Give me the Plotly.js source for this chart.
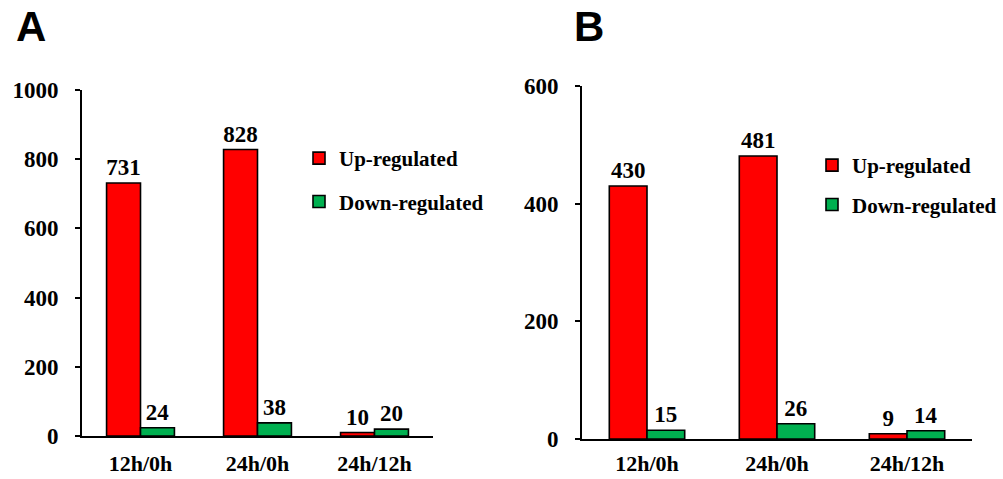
<!DOCTYPE html>
<html>
<head>
<meta charset="utf-8">
<script src="https://cdn.plot.ly/plotly-3.0.1.min.js"></script>
<style>html,body{margin:0;padding:0;background:#fff;}#chart{width:1003px;height:479px;}</style>
</head>
<body>
<div id="chart"></div>
<script>
const categories = ["12h/0h", "24h/0h", "24h/12h"];
const upA = [731, 828, 10];
const downA = [24, 38, 20];
const upB = [430, 481, 9];
const downB = [15, 26, 14];
const seriesNames = ["Up-regulated", "Down-regulated"];
const yTicksA = [0, 200, 400, 600, 800, 1000];
const yTicksB = [0, 200, 400, 600];

const RED = "#FF0000";
const GREEN = "#00B050";
const SERIF = "'Liberation Serif', 'Times New Roman', serif";

function barTrace(name, vals, color, xa, ya, legend) {
  return {
    type: "bar",
    name: name,
    x: categories,
    y: vals,
    xaxis: xa,
    yaxis: ya,
    legend: legend,
    legendgroup: legend + name,
    marker: {color: color, line: {color: "#000", width: 1.6}},
    text: vals.map(String),
    textposition: "outside",
    constraintext: "none",
    cliponaxis: false,
    textfont: {family: SERIF, size: 23, color: "#000", weight: "bold"},
    hoverinfo: "x+y+name"
  };
}

const data = [
  barTrace(seriesNames[0], upA, RED, "x", "y", "legend"),
  barTrace(seriesNames[1], downA, GREEN, "x", "y", "legend"),
  barTrace(seriesNames[0], upB, RED, "x2", "y2", "legend2"),
  barTrace(seriesNames[1], downB, GREEN, "x2", "y2", "legend2")
];

const W = 1003, H = 479;
const px = v => v / W;
const py = v => 1 - v / H;

const yTickFont = {family: SERIF, size: 23, color: "#000", weight: "bold"};
const xTickFont = {family: SERIF, size: 22, color: "#000", weight: "bold"};

function xAxis(domain, anchor, standoff) {
  return {
    domain: domain, anchor: anchor,
    type: "category", range: [-0.5, 2.5],
    showline: true, linecolor: "#000", linewidth: 2,
    ticks: "", showgrid: false, zeroline: false,
    tickfont: xTickFont, ticklabelstandoff: standoff,
    fixedrange: true
  };
}
function yAxis(domain, anchor, range, ticks) {
  return {
    domain: domain, anchor: anchor,
    range: range, tickvals: ticks, ticktext: ticks.map(String),
    showline: true, linecolor: "#000", linewidth: 2,
    ticks: "outside", ticklen: 5, tickwidth: 2, tickcolor: "#000",
    showgrid: false, zeroline: false,
    tickfont: yTickFont, ticklabelstandoff: 12,
    fixedrange: true
  };
}

const legendFont = {family: SERIF, size: 21, color: "#000", weight: "bold"};

const layout = {
  width: W, height: H,
  margin: {l: 0, r: 0, t: 0, b: 0},
  paper_bgcolor: "#fff", plot_bgcolor: "#fff",
  barmode: "group", bargap: 0.42, bargroupgap: 0,
  xaxis: xAxis([px(82), px(433)], "y", 7),
  yaxis: yAxis([py(436), py(90)], "x", [0, 1000], yTicksA),
  xaxis2: xAxis([px(582), px(972)], "y2", 4),
  yaxis2: yAxis([py(439), py(86)], "x2", [0, 600], yTicksB),
  legend: {
    x: px(299), y: py(138), xanchor: "left", yanchor: "top",
    font: legendFont, bgcolor: "rgba(0,0,0,0)", borderwidth: 0,
    traceorder: "grouped", tracegroupgap: 13
  },
  legend2: {
    x: px(812), y: py(145), xanchor: "left", yanchor: "top",
    font: legendFont, bgcolor: "rgba(0,0,0,0)", borderwidth: 0,
    traceorder: "grouped", tracegroupgap: 9
  },
  showlegend: true,
  annotations: [
    {text: "A", xref: "paper", yref: "paper", x: px(31), y: py(27), xanchor: "center", yanchor: "middle",
     showarrow: false, font: {family: "'Liberation Sans', Arial, sans-serif", size: 42, color: "#000", weight: "bold"}},
    {text: "B", xref: "paper", yref: "paper", x: px(589), y: py(27), xanchor: "center", yanchor: "middle",
     showarrow: false, font: {family: "'Liberation Sans', Arial, sans-serif", size: 42, color: "#000", weight: "bold"}}
  ]
};

Plotly.newPlot("chart", data, layout, {displayModeBar: false, staticPlot: true});
</script>
</body>
</html>
